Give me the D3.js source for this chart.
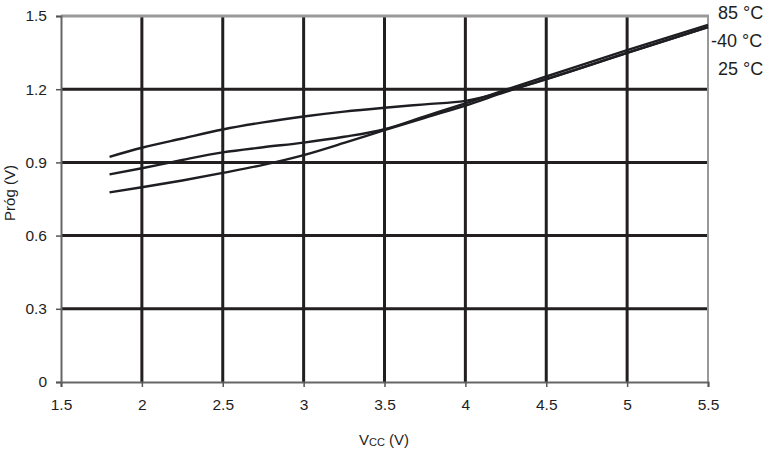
<!DOCTYPE html>
<html><head><meta charset="utf-8">
<script src="https://cdn.jsdelivr.net/npm/d3@7/dist/d3.min.js"></script>
<style>body{margin:0;background:#fff}svg{display:block}text{font-family:"Liberation Sans",Arial,sans-serif;fill:#1e1e22}</style>
</head><body><svg id="c" width="769" height="449"></svg>
<script>
const xTicks = [1.5, 2, 2.5, 3, 3.5, 4, 4.5, 5, 5.5];
const yTicks = [0, 0.3, 0.6, 0.9, 1.2, 1.5];
const vcc   = [1.8, 2.0, 2.25, 2.5, 2.75, 3.0, 3.25, 3.5, 3.75, 4.0, 4.25, 4.5, 5.0, 5.5];
const t85   = [0.923, 0.960, 0.998, 1.035, 1.064, 1.088, 1.108, 1.124, 1.138, 1.152, 1.192, 1.241, 1.349, 1.454];
const tm40  = [0.851, 0.876, 0.910, 0.941, 0.962, 0.981, 1.005, 1.036, 1.089, 1.142, 1.198, 1.252, 1.360, 1.464];
const t25   = [0.777, 0.798, 0.826, 0.857, 0.890, 0.930, 0.980, 1.032, 1.083, 1.133, 1.189, 1.241, 1.349, 1.454];
const seriesLabels = ["85 °C", "-40 °C", "25 °C"];

const svg = d3.select("#c");
const x = d3.scaleLinear().domain([1.5, 5.5]).range([61, 708]);
const y = d3.scaleLinear().domain([0, 1.5]).range([382, 16]);

// gridlines
svg.append("g").selectAll("line").data(xTicks.filter(d => d > 1.5 && d < 5.5)).join("line")
  .attr("x1", d => x(d)).attr("x2", d => x(d)).attr("y1", y(1.5)).attr("y2", y(0))
  .attr("stroke", "#231f20").attr("stroke-width", 3);
svg.append("g").selectAll("line").data(yTicks.filter(d => d > 0 && d < 1.5)).join("line")
  .attr("x1", x(1.5)).attr("x2", x(5.5)).attr("y1", d => y(d)).attr("y2", d => y(d))
  .attr("stroke", "#231f20").attr("stroke-width", 3);

// frame
svg.append("line").attr("x1", x(1.5)).attr("x2", x(5.5) + 1).attr("y1", y(1.5)).attr("y2", y(1.5))
  .attr("stroke", "#999").attr("stroke-width", 3);
svg.append("line").attr("x1", x(5.5)).attr("x2", x(5.5)).attr("y1", y(1.5)).attr("y2", y(0))
  .attr("stroke", "#999").attr("stroke-width", 2);

// axes
const xAxis = svg.append("g").attr("transform", `translate(0,${y(0)})`)
  .call(d3.axisBottom(x).tickValues(xTicks).tickSize(5).tickPadding(12).tickFormat(d3.format("")));
const yAxis = svg.append("g").attr("transform", `translate(${x(1.5)},0)`)
  .call(d3.axisLeft(y).tickValues(yTicks).tickSize(5).tickPadding(9).tickFormat(d3.format("")));
[xAxis, yAxis].forEach(a => {
  a.select(".domain").attr("stroke", "#666").attr("stroke-width", 2);
  a.selectAll(".tick line").attr("stroke", "#555").attr("stroke-width", 1.5);
  a.selectAll("text").attr("font-size", 15.5).attr("fill", "#1e1e22")
   .style("font-family", '"Liberation Sans",Arial,sans-serif');
});

// series
const line = d3.line().x(d => x(d[0])).y(d => y(d[1])).curve(d3.curveMonotoneX);
[t85, tm40, t25].forEach(s => {
  svg.append("path").datum(vcc.map((v, i) => [v, s[i]])).attr("d", line)
    .attr("fill", "none").attr("stroke", "#1e1e22").attr("stroke-width", 2.4);
});

// series labels
const lblPos = [[718, 19], [711, 47], [718, 75]];
seriesLabels.forEach((t, i) => {
  svg.append("text").attr("x", lblPos[i][0]).attr("y", lblPos[i][1]).attr("font-size", 18).text(t);
});

// axis titles
svg.append("text").attr("transform", "translate(15,193) rotate(-90)").attr("text-anchor", "middle")
  .attr("font-size", 15).text("Próg (V)");
const xt = svg.append("text").attr("x", 384).attr("y", 445).attr("text-anchor", "middle").attr("font-size", 15);
xt.append("tspan").text("V");
xt.append("tspan").attr("font-size", 11).attr("dy", 1).text("CC");
xt.append("tspan").attr("dy", -1).text(" (V)");
</script></body></html>
